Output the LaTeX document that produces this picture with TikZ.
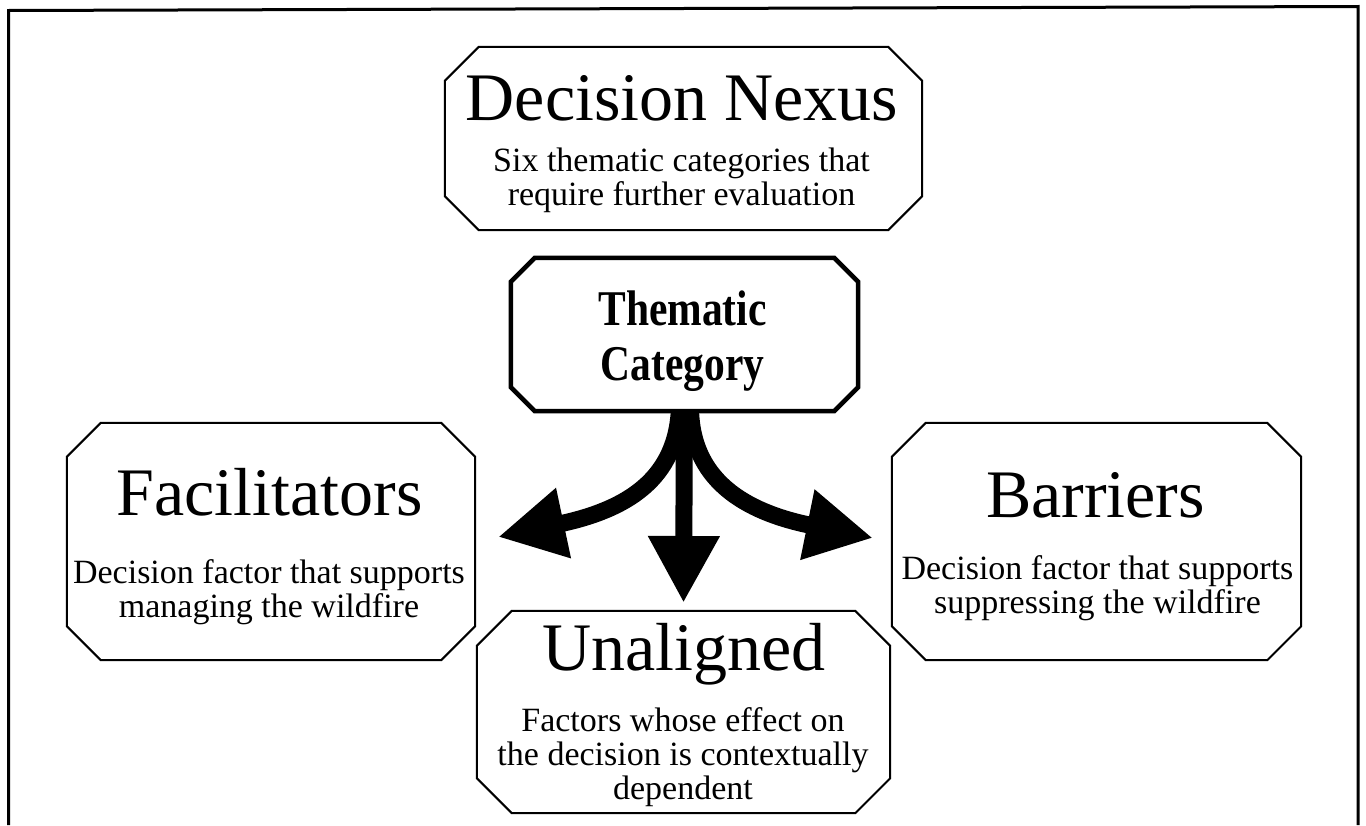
\documentclass[tikz,border=0pt]{standalone}
\usepackage{fontspec}
\setmainfont{Liberation Serif}
\newfontfamily\condfont[FakeStretch=0.83]{Liberation Serif}
\usetikzlibrary{arrows.meta}
\newcommand\octo[3][]{%
  \draw[#1] ([xshift=#3]#2.north west) -- ([xshift=-#3]#2.north east) --
  ([yshift=-#3]#2.north east) -- ([yshift=#3]#2.south east) --
  ([xshift=-#3]#2.south east) -- ([xshift=#3]#2.south west) --
  ([yshift=#3]#2.south west) -- ([yshift=-#3]#2.north west) -- cycle;}
\tikzset{
  boxarea/.style={draw=none, inner sep=0pt, minimum width=#1},
  thinoct/.style={line width=2pt, fill=white, line join=miter},
  thickoct/.style={line width=4.5pt, fill=white, line join=miter},
  titletext/.style={inner sep=0pt, anchor=base, font=\fontsize{68}{70}\selectfont},
  subtext/.style={inner sep=0pt, anchor=base, align=center, font=\fontsize{34}{34}\selectfont},
  cattext/.style={inner sep=0pt, anchor=base, align=center, font=\condfont\bfseries\fontsize{50}{55}\selectfont},
  bigarrow/.style={line width=17pt, -{Triangle[length=67pt,width=67pt]}},
  frameline/.style={line width=3pt}
}
\begin{document}
\begin{tikzpicture}[x=1pt,y=-1pt]
\useasboundingbox (0,0) rectangle (1366,825);
% frame
\draw[frameline] (8.5,825) -- (8.5,10.5) -- (1358,6.5) -- (1358,825);
% box areas
\node[boxarea=477pt, minimum height=183pt] (dn) at (683.5,138.5) {};
\node[boxarea=347pt, minimum height=153pt] (tc) at (684.5,334.5) {};
\node[boxarea=408pt, minimum height=237pt] (fa) at (271,541.5) {};
\node[boxarea=409pt, minimum height=237pt] (ba) at (1096.5,541.5) {};
\node[boxarea=413pt, minimum height=202pt] (un) at (683.5,712) {};
% arrow tips
\coordinate (tipL) at (498,537);
\coordinate (tipC) at (683.5,603);
\coordinate (tipR) at (873,538);
% arrows
\draw[bigarrow] ([xshift=-5pt,yshift=6pt]tc.south) .. controls (678,480) and (625,510) .. (tipL);
\draw[bigarrow] ([yshift=6pt]tc.south) -- (tipC);
\draw[bigarrow] ([xshift=6pt,yshift=6pt]tc.south) .. controls (690,480) and (745,512) .. (tipR);
% boxes
\octo[thinoct]{dn}{34pt}
\octo[thickoct]{tc}{24pt}
\octo[thinoct]{fa}{34pt}
\octo[thinoct]{ba}{34pt}
\octo[thinoct]{un}{35pt}
% texts (multi-line nodes are placed by the baseline of their last line)
\node[titletext] (dnT) at (682,120) {Decision Nexus};
\node[subtext] (dnS) at (681.5,205) {Six thematic categories that\\require further evaluation};
\node[cattext] (tcT) at (682.5,380) {Thematic\\Category};
\node[titletext] (faT) at (269.5,515) {Facilitators};
\node[subtext] (faS) at (269,617) {Decision factor that supports\\managing the wildfire};
\node[titletext] (baT) at (1095.5,517) {Barriers};
\node[subtext] (baS) at (1097.5,613) {Decision factor that supports\\suppressing the wildfire};
\node[titletext] (unT) at (684,670) {Unaligned};
\node[subtext] (unS) at (683,799) {Factors whose effect on\\the decision is contextually\\dependent};
\end{tikzpicture}
\end{document}
